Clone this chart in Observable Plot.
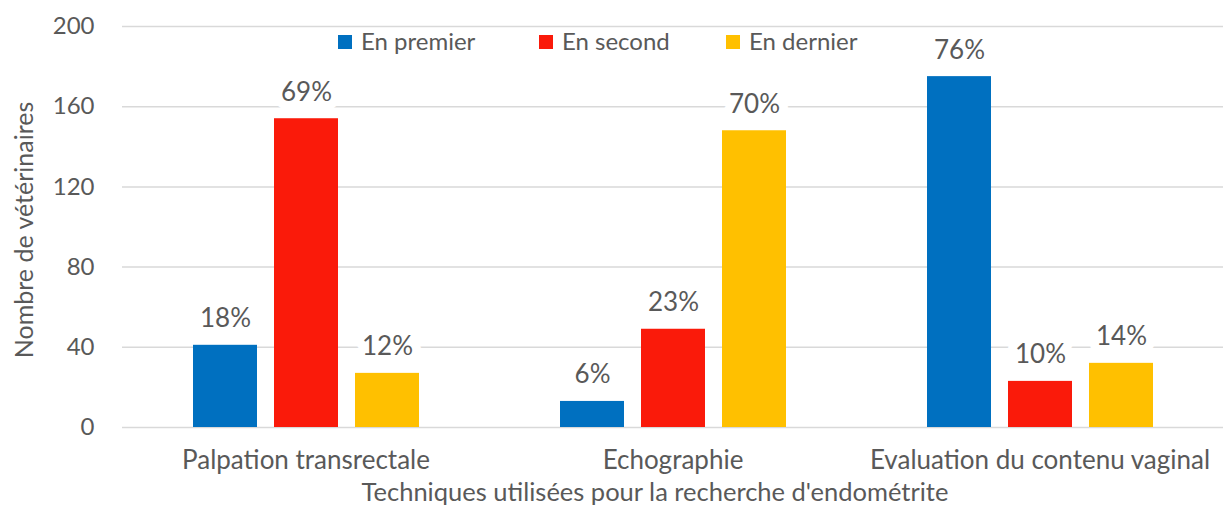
<!DOCTYPE html>
<html><head><meta charset="utf-8">
<script src="https://cdn.jsdelivr.net/npm/d3@7"></script>
<script src="https://cdn.jsdelivr.net/npm/@observablehq/plot@0.6"></script>
<style>body{margin:0;background:#fff}</style>
</head><body><div id="chart"></div>
<script>
const techniques = ["Palpation transrectale", "Echographie", "Evaluation du contenu vaginal"];
const series = ["En premier", "En second", "En dernier"];
const enPremier = [41, 13, 175];
const enSecond = [154, 49, 23];
const enDernier = [27, 148, 32];
const pctPremier = ["18%", "6%", "76%"];
const pctSecond = ["69%", "23%", "10%"];
const pctDernier = ["12%", "70%", "14%"];
const seriesColors = ["#0070C0", "#FA1A0A", "#FFC000"];
const yTicks = [0, 40, 80, 120, 160, 200];
const yTitle = "Nombre de vétérinaires";
const xTitle = "Techniques utilisées pour la recherche d'endométrite";

const values = [enPremier, enSecond, enDernier];
const pcts = [pctPremier, pctSecond, pctDernier];
const data = [];
techniques.forEach((t, i) => series.forEach((s, j) => data.push({technique: t, serie: s, value: values[j][i], pct: pcts[j][i]})));

const textColor = "#595959";
const font = "Lato, sans-serif";
const chart = Plot.plot({
  width: 1226, height: 506,
  marginLeft: 121, marginRight: 3, marginTop: 26, marginBottom: 79,
  style: {fontFamily: font, color: textColor, background: "#fff"},
  fx: {domain: techniques, padding: 0, label: null},
  x: {domain: series, paddingInner: 0.213, paddingOuter: 0.855, axis: null},
  y: {domain: [0, 200]},
  color: {domain: series, range: seriesColors},
  marks: [
    Plot.gridY({ticks: yTicks.filter(d => d > 0), stroke: "#D9D9D9", strokeOpacity: 1, strokeWidth: 1.5}),
    Plot.ruleY([0], {stroke: "#D9D9D9", strokeWidth: 1.5}),
    Plot.axisY({ticks: yTicks, tickSize: 0, tickPadding: 28, fontSize: 24, label: null, fill: textColor}),
    Plot.axisFx({anchor: "bottom", tickSize: 0, tickPadding: 23, fontSize: 26, label: null, fill: textColor}),
    Plot.barY(data, {fx: "technique", x: "serie", y: "value", fill: "serie"}),
    Plot.text(data, {fx: "technique", x: "serie", y: "value", text: "pct", dy: -18, lineAnchor: "bottom",
      fontSize: 26, fill: textColor, stroke: "white", strokeWidth: 18, paintOrder: "stroke"})
  ]
});
document.getElementById("chart").appendChild(chart);

const svg = d3.select(chart);
// legend
const legendItems = [
  {label: series[0], color: seriesColors[0], x: 338},
  {label: series[1], color: seriesColors[1], x: 539},
  {label: series[2], color: seriesColors[2], x: 726}
];
const lg = svg.append("g");
legendItems.forEach(d => {
  lg.append("rect").attr("x", d.x).attr("y", 35).attr("width", 14).attr("height", 14).attr("fill", d.color);
  lg.append("text").attr("x", d.x + 23).attr("y", 42).attr("dy", "0.35em").attr("text-anchor", "start")
    .attr("font-size", 24).attr("fill", textColor).attr("font-family", font).text(d.label);
});
// axis titles
svg.append("text").attr("transform", "translate(33,230) rotate(-90)").attr("text-anchor", "middle")
  .attr("font-size", 25).attr("fill", textColor).attr("font-family", font).text(yTitle);
svg.append("text").attr("x", 655).attr("y", 500.5).attr("text-anchor", "middle")
  .attr("font-size", 25.5).attr("fill", textColor).attr("font-family", font).text(xTitle);
</script>
</body></html>
